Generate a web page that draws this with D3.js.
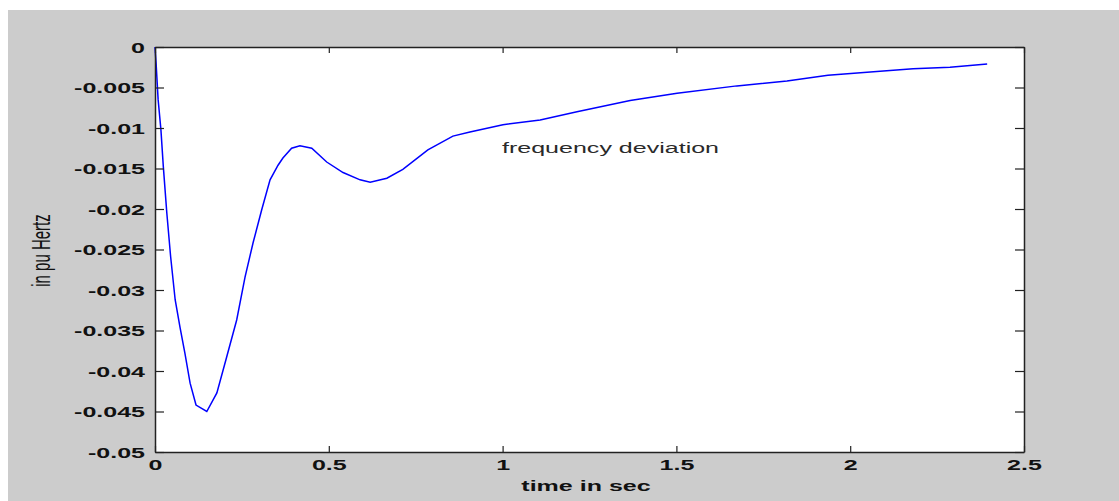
<!DOCTYPE html>
<html>
<head>
<meta charset="utf-8">
<script src="https://cdn.jsdelivr.net/npm/d3@7"></script>
<style>
  body { margin: 0; background: #ffffff; }
  svg { display: block; }
</style>
</head>
<body>
<div id="chart"></div>
<script>
// time axis (seconds) and frequency deviation (pu Hz)
var timeSec = [0, 0.003, 0.009, 0.017, 0.024, 0.034, 0.045, 0.058, 0.072, 0.086, 0.101, 0.118,
  0.149, 0.178, 0.206, 0.235, 0.259, 0.282, 0.307, 0.331, 0.354, 0.368, 0.393, 0.417, 0.451,
  0.494, 0.541, 0.590, 0.619, 0.667, 0.713, 0.785, 0.857, 0.906, 1.001, 1.108, 1.214, 1.367,
  1.502, 1.674, 1.818, 1.936, 2.086, 2.181, 2.287, 2.394];
var freqDev = [0, -0.0019, -0.0065, -0.0102, -0.0148, -0.0205, -0.0259, -0.0312, -0.0346, -0.0378, -0.0415, -0.0442,
  -0.0450, -0.0427, -0.0383, -0.0337, -0.0284, -0.0242, -0.0201, -0.0164, -0.0146, -0.0137, -0.0125, -0.0122, -0.0125,
  -0.0142, -0.0155, -0.0164, -0.0167, -0.0162, -0.0151, -0.0127, -0.0110, -0.0105, -0.0096, -0.0090, -0.0080, -0.0066,
  -0.0057, -0.0048, -0.0042, -0.0035, -0.0030, -0.0027, -0.0025, -0.0021];

var xTickValues = [0, 0.5, 1, 1.5, 2, 2.5];
var xTickLabels = ["0", "0.5", "1", "1.5", "2", "2.5"];
var yTickValues = [0, -0.005, -0.01, -0.015, -0.02, -0.025, -0.03, -0.035, -0.04, -0.045, -0.05];
var yTickLabels = ["0", "-0.005", "-0.01", "-0.015", "-0.02", "-0.025", "-0.03", "-0.035", "-0.04", "-0.045", "-0.05"];

var width = 1119, height = 501;
var plot = { left: 155, right: 1024, top: 47, bottom: 452 };
var stretch = 1.67; // the picture is stretched sideways, so is its text

var svg = d3.select("#chart").append("svg")
  .attr("width", width)
  .attr("height", height);

// grey figure background
svg.append("rect")
  .attr("x", 8).attr("y", 10)
  .attr("width", width - 8).attr("height", height - 10)
  .attr("fill", "#cccccc");

svg.append("rect")
  .attr("x", plot.left).attr("y", plot.top)
  .attr("width", plot.right - plot.left).attr("height", plot.bottom - plot.top)
  .attr("fill", "#ffffff");

var x = d3.scaleLinear().domain([0, 2.5]).range([plot.left, plot.right]);
var y = d3.scaleLinear().domain([-0.05, 0]).range([plot.bottom, plot.top]);

var data = timeSec.map(function(t, i) { return { t: t, v: freqDev[i] }; });

var line = d3.line()
  .x(function(d) { return x(d.t); })
  .y(function(d) { return y(d.v); });

svg.append("path")
  .datum(data)
  .attr("d", line)
  .attr("fill", "none")
  .attr("stroke", "#0000ff")
  .attr("stroke-width", 1.5);

// axes, MATLAB style box with inward ticks on all four sides
var bottomAxis = svg.append("g")
  .attr("transform", "translate(0," + plot.bottom + ")")
  .call(d3.axisBottom(x).tickValues(xTickValues)
    .tickFormat(function(d, i) { return xTickLabels[i]; })
    .tickSizeInner(-6).tickSizeOuter(0).tickPadding(7.5));

var leftAxis = svg.append("g")
  .attr("transform", "translate(" + plot.left + ",0)")
  .call(d3.axisLeft(y).tickValues(yTickValues)
    .tickFormat(function(d, i) { return yTickLabels[i]; })
    .tickSizeInner(-9).tickSizeOuter(0).tickPadding(10));

svg.append("g")
  .attr("transform", "translate(0," + plot.top + ")")
  .call(d3.axisTop(x).tickValues(xTickValues).tickFormat("")
    .tickSizeInner(-6).tickSizeOuter(0));

svg.append("g")
  .attr("transform", "translate(" + plot.right + ",0)")
  .call(d3.axisRight(y).tickValues(yTickValues).tickFormat("")
    .tickSizeInner(-9).tickSizeOuter(0));

svg.selectAll(".domain").attr("stroke", "#222").attr("stroke-width", 1.5);
svg.selectAll(".tick line").attr("stroke", "#222").attr("stroke-width", 1.2);

svg.selectAll(".tick text")
  .attr("font-family", "'Liberation Sans', Arial, sans-serif")
  .attr("font-size", 15)
  .attr("font-weight", "bold")
  .attr("fill", "#111");

bottomAxis.selectAll(".tick text")
  .attr("transform", "scale(" + stretch + ",1)");

leftAxis.selectAll(".tick text")
  .attr("x", -10 / stretch)
  .attr("dy", "0.35em")
  .attr("transform", "scale(" + stretch + ",1)");

// axis titles
svg.append("text")
  .attr("transform", "translate(586,491) scale(" + stretch + ",1)")
  .attr("text-anchor", "middle")
  .attr("font-family", "'Liberation Sans', Arial, sans-serif")
  .attr("font-size", 15)
  .attr("font-weight", "bold")
  .attr("fill", "#111")
  .text("time in sec");

svg.append("text")
  .attr("transform", "translate(50,250.5) scale(" + stretch + ",1) rotate(-90)")
  .attr("text-anchor", "middle")
  .attr("font-family", "'Liberation Sans', Arial, sans-serif")
  .attr("font-size", 15)
  .attr("fill", "#111")
  .text("in pu Hertz");

svg.append("text")
  .attr("transform", "translate(502,153) scale(" + stretch + ",1)")
  .attr("font-family", "'Liberation Sans', Arial, sans-serif")
  .attr("font-size", 15)
  .attr("fill", "#2a2a2a")
  .text("frequency deviation");
</script>
</body>
</html>
